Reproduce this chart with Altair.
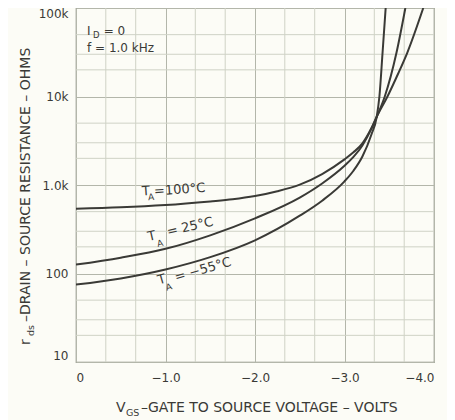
import altair as alt
import pandas as pd

FONT = "DejaVu Sans"
INK = "#3a3a36"
BG = "#fcfcf6"
GRID_MAJOR = "#b3b6aa"
GRID_MINOR = "#cfd2c6"

# ---- data ----
volts_100 = [0.0, -0.5, -1.0, -1.5, -1.75, -2.0, -2.25, -2.5, -2.75, -3.0, -3.1, -3.2, -3.3, -3.36,
             -3.48, -3.6, -3.70, -3.88]
ohms_100 = [540, 560, 595, 653, 690, 750, 850, 1010, 1330, 1950, 2340, 2950, 4370, 5900,
            10000, 18200, 31000, 100000]
volts_25 = [0.0, -0.5, -1.0, -1.5, -2.0, -2.5, -2.75, -3.0, -3.1, -3.2, -3.3, -3.36, -3.45, -3.58, -3.68]
ohms_25 = [126, 151, 190, 270, 420, 720, 1040, 1650, 2075, 2800, 4300, 5900, 10000, 31000, 100000]
volts_m55 = [0.0, -0.5, -1.0, -1.5, -2.0, -2.5, -2.75, -3.0, -3.1, -3.2, -3.3, -3.36, -3.39, -3.425, -3.46]
ohms_m55 = [75, 88, 111, 153, 237, 450, 665, 1100, 1450, 2100, 3700, 5900, 10000, 31000, 100000]

x_ticks = [0, -1, -2, -3, -4]
x_minor = [-0.333, -0.667, -1.333, -1.667, -2.333, -2.667, -3.333, -3.667]
y_ticks = [10, 100, 1000, 10000, 100000]
y_minor = [20, 30, 50, 200, 300, 500, 2000, 3000, 5000, 20000, 30000, 50000]

rows = []
for name, vs, rs in [("100", volts_100, ohms_100), ("25", volts_25, ohms_25), ("-55", volts_m55, ohms_m55)]:
    for v, r in zip(vs, rs):
        rows.append({"V": v, "R": r, "T": name})
curves_df = pd.DataFrame(rows)

xs = alt.Scale(domain=[0, -4], nice=False, zero=False)
ys = alt.Scale(type="log", domain=[10, 100000], nice=False)

X_AX = alt.Axis(values=x_ticks, title=None,
                labelExpr="datum.value == 0 ? '0' : '\u2212' + format(-datum.value, '.1f')",
                grid=True, gridColor=GRID_MAJOR, ticks=False, tickSize=0, labelPadding=10,
                labelBaseline="top", domain=False)
Y_AX = alt.Axis(values=y_ticks, title=None,
                labelExpr="datum.value >= 10000 ? format(datum.value / 1000, 'd') + 'k' : "
                          "(datum.value == 1000 ? '1.0k' : format(datum.value, 'd'))",
                grid=True, gridColor=GRID_MAJOR, ticks=False, tickSize=0, labelPadding=8,
                labelFlush=True, domain=False)

vgrid = alt.Chart(pd.DataFrame({"V": x_minor})).mark_rule(color=GRID_MINOR, strokeWidth=1).encode(
    x=alt.X("V:Q", scale=xs, axis=X_AX)
)
hgrid = alt.Chart(pd.DataFrame({"R": y_minor})).mark_rule(color=GRID_MINOR, strokeWidth=1).encode(
    y=alt.Y("R:Q", scale=ys, axis=Y_AX)
)

lines = alt.Chart(curves_df).mark_line(color=INK, strokeWidth=2, interpolate="monotone", clip=True).encode(
    x=alt.X("V:Q", scale=xs, axis=X_AX),
    y=alt.Y("R:Q", scale=ys, axis=Y_AX),
    detail="T:N",
)


def note(text, v, r, size=13, angle=0):
    return alt.Chart(pd.DataFrame({"V": [v], "R": [r], "t": [text]})).mark_text(
        align="left", baseline="middle", font=FONT, fontSize=size, angle=angle, color=INK
    ).encode(x=alt.X("V:Q", scale=xs, axis=X_AX), y=alt.Y("R:Q", scale=ys, axis=Y_AX), text="t:N")


def side(text, px, py, size=13, angle=0):
    return alt.Chart(pd.DataFrame({"t": [text]})).mark_text(
        align="left", baseline="middle", font=FONT, fontSize=size, angle=angle, color=INK
    ).encode(x=alt.value(px), y=alt.value(py), text="t:N")


notes = [
    # conditions
    note("I", -0.123, 55000, 12),
    note("D", -0.19, 50000, 8.5),
    note("= 0", -0.31, 55000, 12),
    note("f = 1.0 kHz", -0.123, 35000, 12),
    # TA = 100 C
    note("T", -0.737, 846, 13, 356),
    note("A", -0.804, 725, 9, 356),
    note("=100\u00b0C", -0.872, 846, 13, 356),
    # TA = 25 C
    note("T", -0.804, 258, 13, 347),
    note("A", -0.905, 215, 9, 347),
    note("= 25\u00b0C", -1.017, 294, 13, 347),
    # TA = -55 C
    note("T", -0.916, 83, 13, 344),
    note("A", -1.006, 69, 9, 344),
    note("= \u221255\u00b0C", -1.106, 90, 13, 344),
    # x title
    side("V", 40, 400, 14),
    side("GS", 50, 405, 9.5),
    side("\u2013GATE TO SOURCE VOLTAGE \u2013 VOLTS", 65, 400, 14),
    # y title
    side("r", -50, 337, 14, 270),
    side("ds", -45, 328, 9.5, 270),
    side("\u2013DRAIN \u2013 SOURCE RESISTANCE \u2013 OHMS", -50, 314, 14, 270),
]

chart = alt.layer(vgrid, hgrid, lines, *notes).properties(
    width=358, height=354,
    autosize=alt.AutoSizeParams(type="none"),
    padding={"left": 68, "top": 0, "right": 13, "bottom": 58},
    background=BG,
).configure_view(
    stroke="#85877d", strokeWidth=1.2, fill=BG
).configure_axis(
    labelFont=FONT, labelFontSize=12, labelColor=INK
)

chart.save("out.html", embed_options={"renderer": "svg", "actions": False})
